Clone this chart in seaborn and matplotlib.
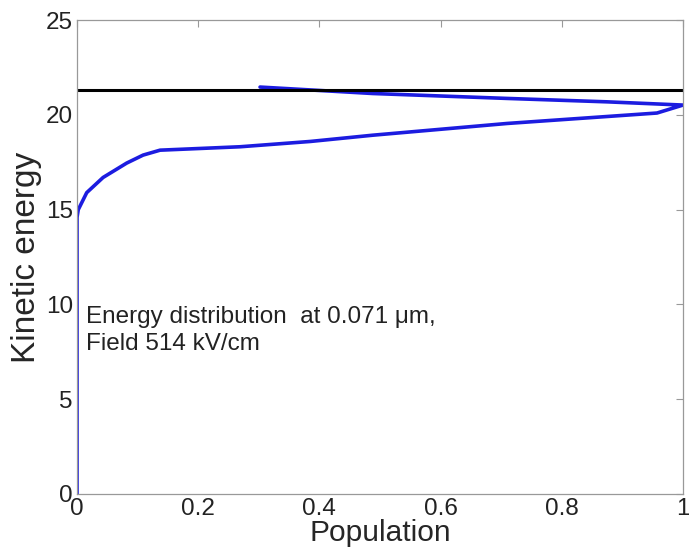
import matplotlib
matplotlib.use("Agg")
import matplotlib.pyplot as plt
import seaborn as sns
import pandas as pd

# curve (population vs kinetic energy)
population = [0.0, 0.0, 0.002, 0.016, 0.043, 0.082, 0.109, 0.137, 0.269, 0.385,
              0.488, 0.71, 0.957, 1.0, 0.875, 0.71, 0.488, 0.302]
energy = [0.0, 14.6, 15.0, 15.9, 16.7, 17.46, 17.88, 18.14, 18.32, 18.6,
          18.93, 19.55, 20.1, 20.52, 20.69, 20.87, 21.13, 21.47]
barrier = 21.3

xticks = [0, 0.2, 0.4, 0.6, 0.8, 1]
xticklabels = ["0", "0.2", "0.4", "0.6", "0.8", "1"]
yticks = [0, 5, 10, 15, 20, 25]

sns.set_style("white")
plt.rcParams['font.family'] = ['Liberation Sans', 'DejaVu Sans']

df = pd.DataFrame({"Population": population, "Kinetic energy": energy})

fig = plt.figure(figsize=(6.89, 5.60), dpi=100)
ax = fig.add_axes([0.1118, 0.1179, 0.8795, 0.8461])

sns.lineplot(data=df, x="Population", y="Kinetic energy", sort=False,
             estimator=None, color="#1c1ce0", linewidth=2.6, ax=ax)
ax.axhline(barrier, color="black", linewidth=2.2, xmin=0, xmax=1)

ax.set_xlim(0, 1)
ax.set_ylim(0, 25)
ax.set_xticks(xticks)
ax.set_xticklabels(xticklabels)
ax.set_yticks(yticks)
ax.tick_params(direction="in", length=5, width=0.8, color="#999999",
               labelsize=17.5, labelcolor="#222222", top=True, right=True, pad=3)
for s in ax.spines.values():
    s.set_color("#999999")
    s.set_linewidth(0.9)

ax.set_xlabel("Population", fontsize=21.5, labelpad=-1)
ax.set_ylabel("Kinetic energy", fontsize=24, labelpad=3)

ax.text(0.014, 0.397, "Energy distribution  at 0.071 \u03bcm,\nField 514 kV/cm",
        transform=ax.transAxes, ha="left", va="top", fontsize=17.5,
        color="#222222", linespacing=1.3)

fig.savefig("out.png", dpi=100)
